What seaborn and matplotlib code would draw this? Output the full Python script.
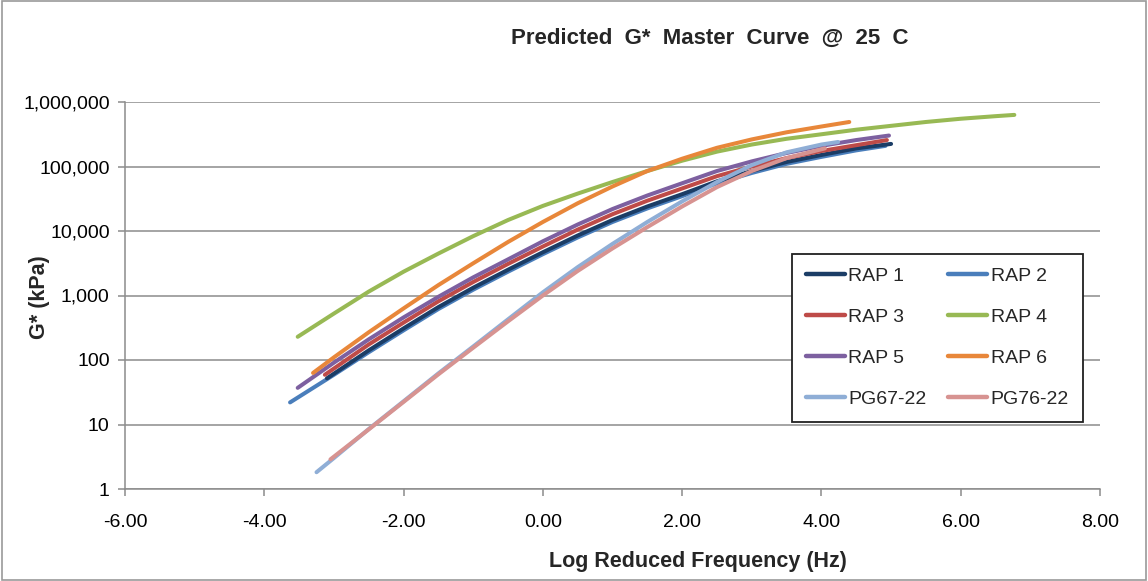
import numpy as np
import pandas as pd
import matplotlib
matplotlib.use("Agg")
import matplotlib.pyplot as plt
from matplotlib.ticker import FuncFormatter, FixedLocator
from matplotlib.patches import Rectangle
import seaborn as sns

# Log reduced frequency (Hz) and dynamic modulus G* (kPa) for each binder
rap1_x = [-3.10, -2.5, -2.0, -1.5, -1.0, -0.5, 0.0, 0.5, 1.0, 1.5, 2.0, 2.5, 3.0, 3.5, 4.0, 4.5, 5.0]
rap1_g = [52, 141, 309, 661, 1320, 2510, 4680, 8510, 14800, 24000, 37200, 58900, 85100,
          117500, 151000, 191000, 224000]

rap2_x = [-3.63, -3.0, -2.5, -2.0, -1.5, -1.0, -0.5, 0.0, 0.5, 1.0, 1.5, 2.0, 2.5, 3.0, 3.5, 4.0, 4.5, 4.92]
rap2_g = [22, 59, 132, 288, 617, 1230, 2340, 4370, 7940, 13800, 22400, 34700, 55000, 79400,
          110000, 141000, 178000, 209000]

rap3_x = [-3.13, -2.5, -2.0, -1.5, -1.0, -0.5, 0.0, 0.5, 1.0, 1.5, 2.0, 2.5, 3.0, 3.5, 4.0, 4.5, 4.94]
rap3_g = [59, 174, 380, 813, 1620, 3090, 5750, 10500, 18200, 29500, 45700, 70800, 100000,
          135000, 174000, 214000, 257000]

rap4_x = [-3.52, -3.0, -2.5, -2.0, -1.5, -1.0, -0.5, 0.0, 0.5, 1.0, 1.5, 2.0, 2.5, 3.0, 3.5,
          4.0, 4.5, 5.0, 5.5, 6.0, 6.5, 6.77]
rap4_g = [229, 525, 1150, 2340, 4470, 8320, 14800, 24500, 38000, 57500, 85100, 123000, 170000,
          219000, 269000, 316000, 372000, 427000, 490000, 550000, 603000, 631000]

rap5_x = [-3.52, -3.0, -2.5, -2.0, -1.5, -1.0, -0.5, 0.0, 0.5, 1.0, 1.5, 2.0, 2.5, 3.0, 3.5, 4.0, 4.5, 4.97]
rap5_g = [37, 91, 209, 457, 955, 1910, 3630, 6920, 12600, 21900, 35500, 55000, 85100, 120000,
          162000, 209000, 257000, 302000]

rap6_x = [-3.30, -3.0, -2.5, -2.0, -1.5, -1.0, -0.5, 0.0, 0.5, 1.0, 1.5, 2.0, 2.5, 3.0, 3.5, 4.0, 4.40]
rap6_g = [63, 110, 269, 631, 1450, 3160, 6760, 13800, 26900, 49000, 85100, 132000, 195000,
          263000, 339000, 417000, 490000]

pg6722_x = [-3.25, -3.0, -2.5, -2.0, -1.5, -1.0, -0.5, 0.0, 0.5, 1.0, 1.5, 2.0, 2.5, 3.0, 3.5, 4.0, 4.24]
pg6722_g = [1.82, 3.02, 8.5, 22.9, 62, 162, 427, 1120, 2750, 6310, 13800, 28800, 57500, 105000,
            166000, 219000, 240000]

pg7622_x = [-3.05, -2.5, -2.0, -1.5, -1.0, -0.5, 0.0, 0.5, 1.0, 1.5, 2.0, 2.5, 3.0, 3.5, 4.05]
pg7622_g = [2.88, 8.4, 22.4, 60, 155, 398, 1000, 2400, 5370, 11500, 24000, 47900, 85100,
            135000, 191000]

series_names = ["RAP 1", "RAP 2", "RAP 3", "RAP 4", "RAP 5", "RAP 6", "PG67-22", "PG76-22"]
series_x = [rap1_x, rap2_x, rap3_x, rap4_x, rap5_x, rap6_x, pg6722_x, pg7622_x]
series_g = [rap1_g, rap2_g, rap3_g, rap4_g, rap5_g, rap6_g, pg6722_g, pg7622_g]
series_colors = ["#1B3D66", "#4A7EBB", "#BE4B48", "#98B954",
                 "#7D60A0", "#E8873A", "#8FAED6", "#D79391"]

y_ticks = [1, 10, 100, 1000, 10000, 100000, 1000000]
x_ticks = [-6, -4, -2, 0, 2, 4, 6, 8]

frames = []
for name, xs, gs in zip(series_names, series_x, series_g):
    frames.append(pd.DataFrame({"freq": xs, "gstar": gs, "binder": name}))
df = pd.concat(frames, ignore_index=True)

sns.set_theme(style="white")
plt.rcParams["font.family"] = ["Liberation Sans", "DejaVu Sans"]

fig = plt.figure(figsize=(11.48, 5.81), dpi=100)
ax = fig.add_axes([125 / 1148, 1 - 489 / 581, 975 / 1148, 387 / 581])

palette = dict(zip(series_names, series_colors))
sns.lineplot(data=df, x="freq", y="gstar", hue="binder", hue_order=series_names,
             palette=palette, estimator=None, sort=False, legend=False,
             linewidth=2.9, ax=ax)

line_by_name = {}
for name, line in zip(series_names, ax.lines):
    line.set_solid_capstyle("round")
    line.set_solid_joinstyle("round")
    line_by_name[name] = line
# RAP 2 sits just beneath RAP 1
line_by_name["RAP 2"].set_zorder(1.9)

ax.set_yscale("log")
ax.set_ylim(1, 1000000)
ax.set_xlim(-6, 8)
ax.yaxis.set_major_locator(FixedLocator(y_ticks))
ax.yaxis.set_minor_locator(FixedLocator([]))
ax.xaxis.set_major_locator(FixedLocator(x_ticks))
ax.yaxis.set_major_formatter(FuncFormatter(lambda v, p: f"{int(round(v)):,}"))
ax.xaxis.set_major_formatter(FuncFormatter(lambda v, p: f"{v:.2f}"))

grid_col = "#8C8C8C"
ax.grid(axis="y", color=grid_col, linewidth=1.1)
ax.grid(axis="x", visible=False)
ax.set_axisbelow(True)
for side in ["top", "right"]:
    ax.spines[side].set_visible(False)
for side in ["left", "bottom"]:
    ax.spines[side].set_color(grid_col)
    ax.spines[side].set_linewidth(1.1)

ax.tick_params(axis="both", which="major", direction="out", length=5,
               width=1.1, color=grid_col, labelsize=14, labelcolor="black")
ax.tick_params(axis="y", pad=6, left=True)
ax.tick_params(axis="x", pad=13, bottom=True)

ax.set_xlabel("")
ax.set_ylabel("")
fig.text(698 / 1148, 1 - 561 / 581, "Log Reduced Frequency (Hz)", ha="center",
         va="center", fontsize=15.5, fontweight="bold")
fig.text(40 / 1148, 1 - 297 / 581, "G* (kPa)", ha="center", va="center",
         rotation=90, fontsize=15.5, fontweight="bold")
fig.text(710 / 1148, 1 - 38 / 581, "Predicted  G*  Master  Curve  @  25  C",
         ha="center", va="center", fontsize=16, fontweight="bold")

# Legend filled row by row: two columns
legend_order = ["RAP 1", "RAP 3", "RAP 5", "PG67-22", "RAP 2", "RAP 4", "RAP 6", "PG76-22"]
handles = [plt.Line2D([], [], color=palette[n], linewidth=3.2,
                      solid_capstyle="round") for n in legend_order]
leg = ax.legend(handles, legend_order, ncol=2, loc="upper left",
                bbox_to_anchor=(792 / 1148, 1 - 254 / 581),
                bbox_transform=fig.transFigure, borderaxespad=0,
                fontsize=14, frameon=True, fancybox=False,
                handlelength=2.0, handletextpad=0.2, columnspacing=1.1,
                labelspacing=1.2, borderpad=0.7)
leg.get_frame().set_edgecolor("#202020")
leg.get_frame().set_linewidth(1.3)
leg.get_frame().set_facecolor("white")
leg.get_frame().set_alpha(1)

# Outer chart border
fig.patches.append(Rectangle((0.002, 0.002), 0.996, 0.996, transform=fig.transFigure,
                             fill=False, edgecolor="#9A9A9A", linewidth=1.2))

fig.savefig("out.png", dpi=100)
